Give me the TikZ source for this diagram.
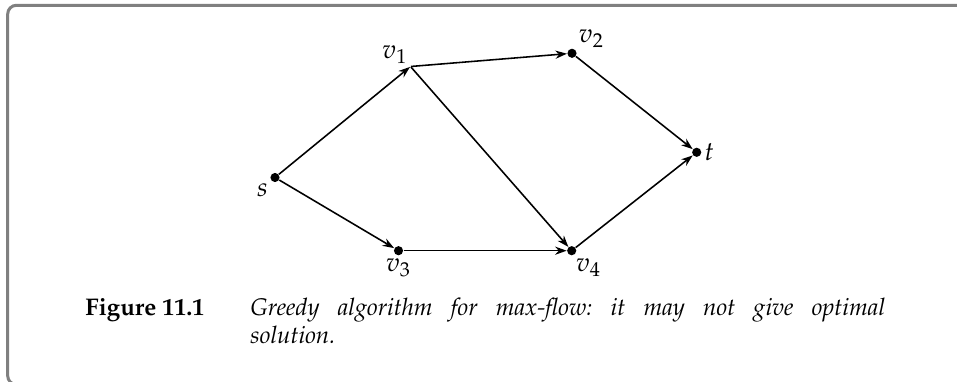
\documentclass[tikz,border=0pt]{standalone}
\usepackage[T1]{fontenc}
\usepackage{mathpazo}
\usetikzlibrary{arrows.meta}
\definecolor{framegray}{RGB}{128,128,128}
\tikzset{
  vert/.style={circle, fill=black, inner sep=0pt, minimum size=3.8pt},
  bare/.style={inner sep=0pt, minimum size=0pt},
  lab/.style={inner sep=1pt},
  edge/.style={-{Stealth[length=4.8pt,width=3.4pt]}, line width=0.65pt},
}
\frenchspacing
\begin{document}
\begin{tikzpicture}[x=0.0146cm, y=-0.0146cm, font=\fontsize{11}{13.3}\selectfont]
% page = 957 x 382 (one unit = one pixel of the reference)
\useasboundingbox (0,0) rectangle (957,382);

% open frame (top and left)
\draw[framegray, line width=1.25pt, rounded corners=3.6pt] (980,5.3) -- (7.7,5.3) -- (7.7,384.5) -- (60,384.5);

% vertices
\node[vert, label={[lab]215:$s$}]  (s)  at (275,177.5) {};
\node[bare, label={[lab]100:$v_1$}] (v1) at (410.5,66.5) {};
\node[vert, label={[lab]38:$v_2$}]  (v2) at (572,53.3) {};
\node[vert, label={[lab]-88:$v_3$}] (v3) at (398.5,250.7) {};
\node[vert, label={[lab]-74:$v_4$}] (v4) at (571.7,250.7) {};
\node[vert, label={[lab]0:$t$}]     (t)  at (696.7,152.3) {};

% edges
\draw[edge] (s) -- (v1);
\draw[edge] (s) -- (v3);
\draw[edge] (v1) -- (v2);
\draw[edge] (v1) -- (v4);
\draw[edge] (v3) -- (v4);
\draw[edge] (v2) -- (t);
\draw[edge] (v4) -- (t);

% caption
\node[anchor=base west, inner sep=0pt, font=\bfseries] (fignum) at (85,315) {Figure 11.1};
\node[anchor=base west, inner sep=0pt, text width=9.27cm, align=justify,
      font=\itshape] (figtext) at (250,315)
  {Greedy algorithm for max-flow: it may not give optimal\linebreak solution.};
\end{tikzpicture}
\end{document}
